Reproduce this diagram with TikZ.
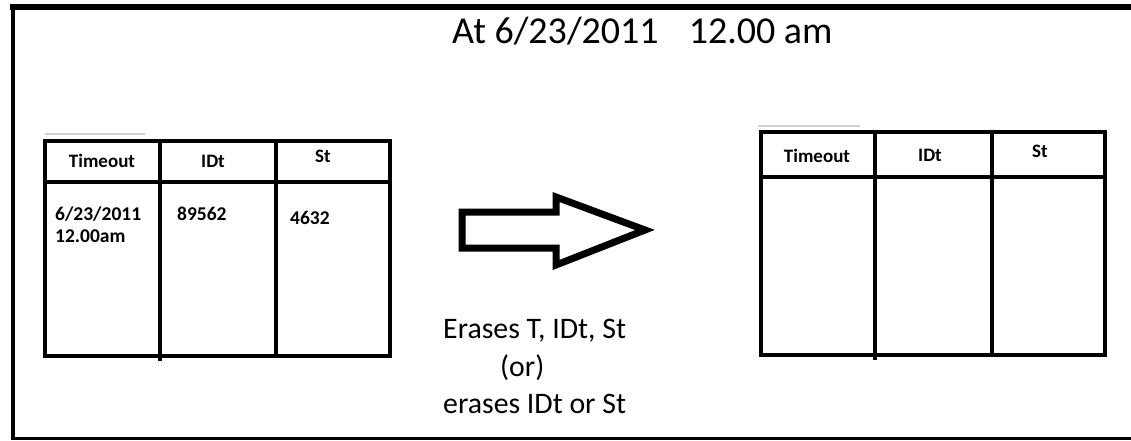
\documentclass[tikz,border=0pt]{standalone}
\usepackage{fontspec}
\setmainfont{Carlito}
\begin{document}
\begin{tikzpicture}[x=1pt,y=-1pt,
  frame/.style={line width=#1,black},
  tbl/.style={line width=4pt,black,line cap=rect},
  hdr/.style={anchor=base,inner sep=0pt,font=\bfseries\fontsize{19}{23}\selectfont},
  cell/.style={anchor=base west,inner sep=0pt,font=\bfseries\fontsize{19.5}{23}\selectfont},
  big/.style={anchor=base west,inner sep=0pt,font=\fontsize{38}{45}\selectfont},
  mid/.style={anchor=base west,inner sep=0pt,font=\fontsize{29.8}{35}\selectfont},
  faint/.style={line width=1.5pt,black!18}]
\useasboundingbox (0,0) rectangle (1131,440);
% outer frame
\draw[frame=6pt] (10,7) -- (1131,7);
\draw[frame=4pt] (13,4) -- (13,440);
\draw[frame=2.5pt] (11,438.5) -- (1131,438.5);
% title
\node[big] (title) at (452,43) {At 6/23/2011\hspace{30pt}12.00 am};
% left table
\draw[faint] (45,134) -- (145,134);
\draw[tbl] (45,141) rectangle (390,356);
\draw[tbl] (45,182) -- (390,182);
\draw[tbl] (160,141) -- (160,359);
\draw[tbl] (276,141) -- (276,356);
\node[hdr] (lh1) at (102,167) {Timeout};
\node[hdr] (lh2) at (213,167) {IDt};
\node[hdr] (lh3) at (323,162) {St};
\node[cell] (ld1) at (55,220) {6/23/2011};
\node[cell] (ld1b) at (55,242) {12.00am};
\node[cell] (ld2) at (177,220) {89562};
\node[cell] (ld3) at (290,224) {4632};
% right table
\draw[faint] (758,126) -- (860,126);
\draw[tbl] (761,132) rectangle (1105,355);
\draw[tbl] (761,177) -- (1105,177);
\draw[tbl] (875,132) -- (875,358);
\draw[tbl] (992,132) -- (992,355);
\node[hdr] (rh1) at (817,162) {Timeout};
\node[hdr] (rh2) at (930,161) {IDt};
\node[hdr] (rh3) at (1040,157) {St};
% block arrow
\draw[line width=7pt,line join=miter,miter limit=10]
  (462,212) -- (556,212) -- (556,197) -- (645,230) -- (556,265) -- (556,248) -- (462,248) -- cycle;
% caption
\node[mid] (c1) at (443,338) {Erases T, IDt, St};
\node[mid] (c2) at (500,376) {(or)};
\node[mid] (c3) at (443,413) {erases IDt or St};
\end{tikzpicture}
\end{document}
